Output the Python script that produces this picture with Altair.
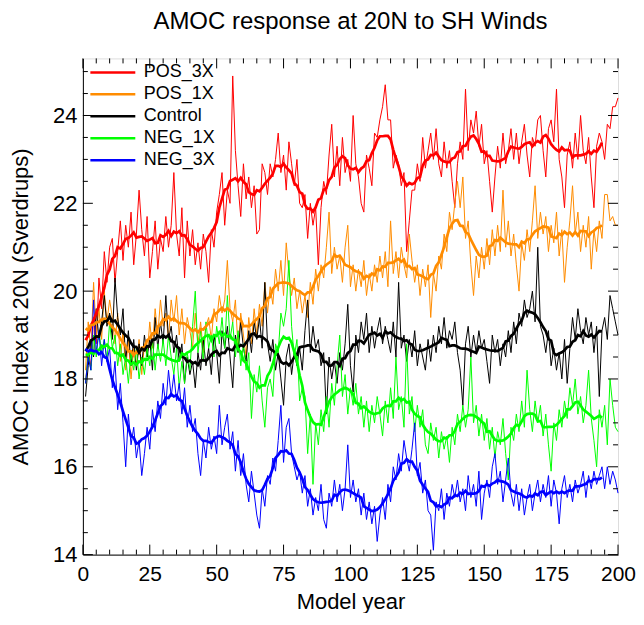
import altair as alt
import pandas as pd

# ---------------- data ----------------
years = list(range(1, 201))
series_names = ["POS_3X", "POS_1X", "Control", "NEG_1X", "NEG_3X"]
series_colors = ["#ff0000", "#ff8c00", "#000000", "#00ff00", "#0000ff"]

pos_3x = [
    17.9, 18.6, 18.3, 19.4, 18.8, 20.3, 19.6, 20.9, 20.2, 21.0,
    21.2, 20.2, 20.9, 21.6, 20.7, 21.5, 21.0, 21.8, 20.6, 21.3,
    22.3, 21.4, 20.8, 21.7, 20.3, 20.9, 21.6, 20.5, 21.2, 20.9,
    21.7, 21.0, 21.5, 22.7, 21.3, 20.8, 21.9, 20.3, 21.6, 20.8,
    21.4, 20.6, 21.1, 20.5, 21.3, 20.9, 20.2, 21.4, 21.0, 21.8,
    22.2, 22.7, 21.5, 22.3, 22.0, 24.9, 23.2, 22.4, 21.7, 22.9,
    22.1, 22.6, 21.9, 22.4, 21.3, 21.4, 22.9, 22.7, 22.2, 22.9,
    22.6, 23.0, 23.6, 22.7, 23.1, 22.3, 23.4, 22.9, 22.4, 23.0,
    22.0, 21.9, 22.2, 21.2, 22.0, 21.5, 21.9, 20.6, 21.9, 22.5,
    22.2, 23.1, 23.8, 22.6, 23.3, 22.4, 23.5, 22.7, 23.0, 22.5,
    24.0, 22.9, 22.6, 22.0, 21.8, 23.1, 22.8, 22.4, 23.6, 23.5,
    23.9, 24.2, 24.7, 23.9, 23.9, 22.8, 23.1, 22.9, 22.4, 22.7,
    20.9, 21.6, 22.3, 22.3, 22.9, 22.5, 23.5, 22.8, 23.2, 23.6,
    23.0, 23.7, 22.9, 22.6, 23.4, 22.8, 23.2, 22.5, 21.9, 22.9,
    23.4, 23.0, 24.6, 23.2, 23.9, 23.6, 24.1, 23.3, 23.8, 22.9,
    23.2, 22.5, 21.8, 22.6, 23.3, 22.8, 23.6, 22.9, 23.2, 23.7,
    23.0, 23.6, 22.9, 23.4, 23.8, 23.1, 22.6, 23.5, 23.3, 23.9,
    24.0, 23.2, 22.6, 23.7, 23.9, 23.4, 24.6, 23.0, 22.6, 21.9,
    23.1, 23.4, 22.8, 23.6, 23.0, 24.0, 23.2, 22.9, 23.5, 22.6,
    21.9, 23.3, 23.6, 23.4, 23.0, 23.8, 23.7, 24.2, 24.2, 24.4,
]

pos_1x = [
    18.2, 19.3, 18.6, 20.2, 19.0, 19.6, 18.9, 20.0, 19.3, 19.8,
    19.4, 18.8, 19.5, 18.4, 19.1, 18.2, 18.9, 18.0, 18.7, 18.3,
    18.9, 18.1, 18.8, 18.5, 19.3, 18.7, 19.6, 19.0, 19.8, 19.2,
    19.5, 18.9, 19.8, 19.3, 19.9, 19.0, 19.6, 18.8, 19.4, 19.1,
    18.7, 19.5, 18.8, 19.3, 18.6, 19.2, 19.4, 18.9, 19.6, 19.3,
    19.9, 19.5, 19.8, 20.7, 19.6, 19.3, 19.8, 18.7, 19.5, 19.0,
    18.5, 19.4, 18.8, 19.6, 19.0, 19.7, 19.2, 20.2, 19.5, 20.1,
    19.7, 20.5, 20.0, 20.7, 19.9, 21.1, 20.4, 19.9, 20.3, 19.6,
    20.0, 19.5, 19.9, 19.4, 20.2, 19.7, 20.5, 20.0, 20.6, 20.3,
    21.0, 21.8, 20.4, 21.0, 20.5, 20.8, 20.2, 21.0, 21.5, 20.1,
    20.6, 20.0, 20.5, 20.1, 20.7, 19.9, 20.4, 20.0, 20.6, 20.2,
    20.8, 20.3, 20.9, 20.1, 21.6, 20.4, 20.9, 20.3, 21.0, 20.6,
    20.3, 21.3, 20.7, 20.2, 20.6, 19.9, 20.5, 20.1, 20.6, 19.4,
    20.4, 20.0, 20.8, 20.5, 21.3, 20.9, 21.8, 21.4, 22.0, 22.5,
    21.9, 22.6, 21.2, 21.6, 20.6, 19.9, 20.8, 20.3, 21.0, 20.5,
    21.2, 20.6, 21.4, 20.8, 21.5, 20.9, 22.3, 21.0, 21.6, 20.8,
    21.3, 20.6, 20.0, 21.1, 20.7, 21.4, 20.9, 21.6, 22.4, 21.2,
    21.8, 21.3, 21.7, 20.9, 21.5, 21.1, 21.8, 20.8, 21.4, 20.2,
    21.0, 21.6, 22.4, 21.3, 21.8, 20.9, 21.5, 21.0, 21.7, 20.5,
    21.4, 20.9, 21.6, 21.2, 22.2, 22.2, 21.6, 21.7, 21.5, 21.5,
]

control = [
    17.6, 18.3, 18.9, 18.5, 19.6, 18.9, 19.3, 19.9, 19.2, 19.5,
    18.9, 20.3, 19.4, 19.0, 19.6, 18.4, 19.1, 18.3, 18.9, 18.2,
    18.8, 18.3, 19.0, 18.5, 18.9, 18.2, 19.4, 18.7, 19.3, 18.8,
    19.9, 18.9, 19.2, 18.6, 19.0, 18.4, 18.8, 17.9, 18.5, 18.1,
    18.4, 17.8, 18.6, 18.2, 18.9, 18.3, 18.7, 18.1, 19.0, 18.6,
    17.9, 19.1, 18.7, 19.2, 18.5, 17.8, 19.0, 18.6, 19.3, 18.7,
    18.4, 19.1, 18.6, 19.3, 18.9, 19.4, 18.7, 20.2, 18.8, 18.4,
    18.9, 18.2, 18.6, 18.0, 17.4, 18.5, 18.8, 18.1, 18.6, 18.3,
    18.7, 18.2, 19.1, 19.8, 18.6, 19.2, 18.7, 18.9, 18.3, 18.6,
    17.2, 18.5, 18.0, 18.4, 17.9, 18.6, 18.2, 18.8, 19.7, 18.3,
    17.7, 19.0, 18.6, 19.3, 18.9, 19.5, 18.6, 19.2, 18.7, 19.1,
    19.4, 18.8, 19.2, 18.9, 18.6, 19.3, 18.5, 20.2, 18.7, 19.0,
    18.4, 18.9, 18.5, 19.1, 18.3, 18.8, 18.5, 18.2, 18.9, 18.4,
    19.0, 18.6, 19.2, 18.8, 19.4, 18.7, 19.1, 18.9, 19.3, 18.6,
    18.2, 17.4, 18.8, 19.2, 18.5, 19.0, 18.6, 19.1, 18.7, 18.9,
    18.4, 17.9, 19.0, 18.6, 18.9, 18.3, 18.8, 18.5, 19.1, 18.6,
    19.3, 18.8, 19.5, 19.2, 19.8, 19.4, 19.6, 20.0, 19.3, 21.0,
    19.2, 19.0, 18.6, 19.1, 18.3, 18.7, 18.2, 18.6, 18.0, 18.9,
    17.9, 18.7, 19.4, 18.9, 19.6, 19.1, 18.8, 19.4, 19.0, 19.3,
    18.6, 19.2, 17.6, 19.1, 19.4, 18.9, 19.9, 19.6, 19.3, 19.0,
]

neg_1x = [
    17.9, 18.6, 18.2, 19.0, 18.5, 19.1, 18.6, 18.9, 18.4, 19.3,
    18.7, 19.0, 18.3, 18.8, 18.1, 18.5, 17.9, 18.6, 18.2, 18.7,
    18.0, 18.5, 18.1, 18.7, 18.3, 18.9, 18.2, 18.8, 18.4, 18.9,
    18.3, 19.0, 18.5, 18.1, 18.7, 17.8, 18.4, 17.9, 18.6, 18.2,
    19.2, 20.0, 18.6, 19.1, 18.4, 19.3, 18.7, 19.0, 18.5, 19.2,
    18.8, 19.4, 18.7, 19.9, 18.9, 19.3, 18.5, 19.1, 18.3, 18.8,
    18.2, 18.6, 17.1, 18.1, 17.7, 18.3, 17.5, 16.9, 17.8, 18.0,
    17.6, 18.8, 18.6, 19.5, 19.2, 19.6, 20.7, 19.2, 18.5, 18.9,
    17.5, 17.8, 17.6, 16.3, 17.2, 15.6, 17.0, 16.5, 17.3, 16.8,
    17.6, 16.9, 17.9, 17.4, 18.3, 19.0, 17.6, 18.1, 17.2, 17.8,
    17.4, 17.9, 17.2, 17.6, 16.9, 17.5, 16.8, 17.4, 17.0, 17.6,
    17.2, 16.7, 17.5, 17.0, 17.8, 17.1, 18.5, 17.3, 17.6, 16.9,
    18.8, 17.2, 17.6, 16.8, 17.4, 16.9, 17.3, 16.5, 16.3, 17.0,
    16.6, 16.9, 16.2, 16.8, 16.4, 16.7, 16.1, 16.9, 16.5, 17.2,
    16.8, 17.4, 16.9, 17.3, 18.5, 17.0, 17.4, 16.7, 17.2, 16.6,
    17.1, 16.4, 16.9, 16.2, 16.8, 16.5, 17.1, 16.3, 15.7, 16.9,
    16.6, 17.2, 16.8, 17.5, 16.9, 18.2, 17.3, 16.8, 17.5, 17.0,
    17.4, 16.7, 17.2, 16.5, 15.9, 17.0, 16.6, 17.3, 16.9, 17.5,
    17.1, 17.8, 17.4, 18.0, 17.2, 17.6, 17.0, 17.4, 18.2, 17.1,
    16.6, 16.0, 17.3, 16.9, 17.4, 16.5, 18.0, 17.4, 16.9, 16.8,
]

neg_3x = [
    17.9, 18.5, 18.2, 19.8, 18.6, 19.1, 18.3, 18.9, 18.4, 18.7,
    17.8, 18.4, 17.3, 17.9, 17.0, 16.0, 17.2, 16.5, 16.9, 16.2,
    16.6, 15.8, 16.3, 16.9, 16.4, 17.3, 16.8, 17.5, 17.1, 17.9,
    17.4, 18.2, 17.6, 18.1, 17.5, 17.9, 17.2, 17.8, 16.9, 17.4,
    16.8, 17.1, 16.3, 15.8, 16.6, 16.2, 16.9, 16.4, 16.7, 16.3,
    17.4, 16.5, 16.9, 17.2, 16.4, 16.8, 15.9, 16.6, 15.8, 16.3,
    15.6, 15.2, 15.9, 15.4, 14.9, 14.6, 15.5, 15.1, 15.8, 15.6,
    16.2, 15.9, 16.6, 17.4, 16.1, 16.9, 17.1, 16.3, 16.0, 15.7,
    15.9, 15.4, 15.8, 15.1, 15.5, 14.9, 15.3, 15.0, 15.6, 14.8,
    14.6, 15.4, 15.1, 15.7, 15.2, 15.6, 15.0, 15.5, 16.5, 15.3,
    15.7, 15.2, 15.5, 14.9, 15.4, 14.8, 15.2, 14.7, 15.1, 14.3,
    14.9, 15.3, 14.8, 15.6, 15.2, 16.0, 15.7, 16.3, 15.9, 16.6,
    16.2, 15.9, 16.4, 17.0, 15.8, 16.1, 15.4, 15.7, 15.0, 14.9,
    14.1, 15.2, 15.0, 15.5, 14.8, 15.4, 15.1, 15.6, 15.3, 15.7,
    15.2, 15.5, 15.0, 15.8, 15.3, 15.6, 15.1, 15.9, 14.8, 15.4,
    15.7, 15.3, 16.0, 16.3, 15.6, 15.9, 15.2, 15.7, 16.2, 15.4,
    15.1, 15.6, 15.0, 15.5, 14.9, 15.3, 15.6, 15.0, 15.4, 15.7,
    15.2, 15.6, 15.3, 15.8, 15.1, 15.7, 15.4, 14.7, 15.5, 15.8,
    15.3, 15.6, 15.2, 15.7, 15.4, 15.6, 15.9, 15.3, 15.8, 15.5,
    15.9, 15.6, 15.8, 16.0, 15.5, 16.0, 15.6, 15.9, 15.7, 15.4,
]

x_major_ticks = [0, 25, 50, 75, 100, 125, 150, 175, 200]
x_minor_ticks = [5, 10, 15, 20, 30, 35, 40, 45, 55, 60, 65, 70, 80, 85, 90, 95,
                 105, 110, 115, 120, 130, 135, 140, 145, 155, 160, 165, 170,
                 180, 185, 190, 195]
y_major_ticks = [14, 16, 18, 20, 22, 24]
y_minor_ticks = [14.5, 15, 15.5, 16.5, 17, 17.5, 18.5, 19, 19.5, 20.5, 21,
                 21.5, 22.5, 23, 23.5, 24.5, 25]

# ---------------- chart ----------------
FONT = "Liberation Sans"
W, H = 536, 497
MAJ, MIN = 10, 5

values_by_series = [pos_3x, pos_1x, control, neg_1x, neg_3x]
rows = []
for name, vals in zip(series_names, values_by_series):
    for yr, v in zip(years, vals):
        rows.append({"year": yr, "value": v, "series": name})
df = pd.DataFrame(rows)

xs = alt.Scale(domain=[0, 200], nice=False, zero=False)
ys = alt.Scale(domain=[14, 25.3], nice=False, zero=False)
cs = alt.Scale(domain=series_names, range=series_colors)

legend = alt.Legend(
    title=None, orient="none", legendX=21, legendY=5,
    symbolType="M-3,0H3", symbolSize=225, symbolStrokeWidth=2.5,
    labelFont=FONT, labelFontSize=18, labelOffset=22, rowPadding=4,
    padding=0, labelColor="black",
)

x_axis = alt.Axis(values=x_major_ticks, ticks=False, grid=False, title="Model year",
                  labelFontSize=21, titleFontSize=22, labelFont=FONT, titleFont=FONT,
                  titleFontWeight="normal", labelPadding=9, titlePadding=7,
                  labelFlush=False,
                  labelColor="black", titleColor="black", domainColor="black")
y_axis = alt.Axis(values=y_major_ticks, ticks=False, grid=False,
                  title="AMOC Index at 20N (Sverdrups)",
                  labelFontSize=22, titleFontSize=22, labelFont=FONT, titleFont=FONT,
                  titleFontWeight="normal", labelPadding=6, titlePadding=20,
                  labelFlush=False,
                  labelColor="black", titleColor="black", domainColor="black")

raw = alt.Chart(df).mark_line(strokeWidth=1.0).encode(
    x=alt.X("year:Q", scale=xs, axis=x_axis),
    y=alt.Y("value:Q", scale=ys, axis=y_axis),
    color=alt.Color("series:N", scale=cs, sort=series_names, legend=legend),
)

smooth = alt.Chart(df).transform_window(
    smooth="mean(value)", frame=[-5, 5], groupby=["series"],
    sort=[alt.SortField("year")],
).transform_filter("datum.year <= 194").mark_line(strokeWidth=2.7).encode(
    x=alt.X("year:Q", scale=xs, axis=x_axis),
    y=alt.Y("smooth:Q", scale=ys, axis=y_axis),
    color=alt.Color("series:N", scale=cs, sort=series_names, legend=legend),
)


def xticks(vals, y0, y1):
    return alt.Chart(pd.DataFrame({"t": vals})).mark_rule(color="black", strokeWidth=1).encode(
        x=alt.X("t:Q", scale=xs, axis=x_axis), y=alt.value(y0), y2=alt.value(y1))


def yticks(vals, x0, x1):
    return alt.Chart(pd.DataFrame({"t": vals})).mark_rule(color="black", strokeWidth=1).encode(
        y=alt.Y("t:Q", scale=ys, axis=y_axis), x=alt.value(x0), x2=alt.value(x1))


ticks = [
    xticks(x_major_ticks, H, H - MAJ), xticks(x_minor_ticks, H, H - MIN),
    xticks(x_major_ticks, 0, MAJ), xticks(x_minor_ticks, 0, MIN),
    yticks(y_major_ticks, 0, MAJ), yticks(y_minor_ticks, 0, MIN),
    yticks(y_major_ticks, W, W - MAJ), yticks(y_minor_ticks, W, W - MIN),
]

chart = alt.layer(raw, smooth, *ticks).properties(
    width=W, height=H,
    title=alt.Title("AMOC response at 20N to SH Winds", fontSize=24, font=FONT,
                    fontWeight="normal", color="black", anchor="middle", offset=24),
    padding={"left": 1, "top": 1, "right": 0, "bottom": 0},
).configure_view(stroke="black", strokeWidth=1).configure(background="white")

chart.save("out.html", embed_options={"renderer": "svg", "actions": False})
